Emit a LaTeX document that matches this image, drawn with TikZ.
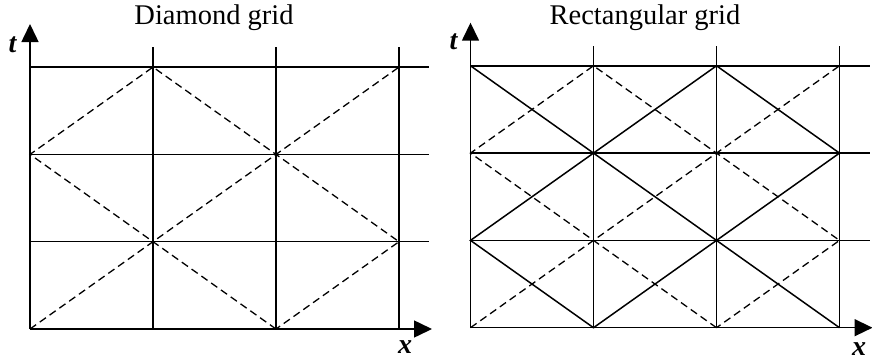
\documentclass[tikz,border=0pt]{standalone}
\usepackage{fontspec}
\setmainfont{Liberation Serif}
\usetikzlibrary{arrows.meta}

\begin{document}
\begin{tikzpicture}[
        x=1pt, y=1pt,
        gridline/.style={line width=1.5pt},
        dashline/.style={line width=1.3pt, dash pattern=on 7.5pt off 4.5pt},
        axis/.style={line width=1.5pt, -{Triangle[length=18pt,width=17pt]}},
        axislabel/.style={inner sep=0pt, font=\fontsize{28}{28}\selectfont\bfseries\itshape},
        title/.style={inner sep=0pt, anchor=base, font=\fontsize{28.5}{30}\selectfont}
    ]
        \useasboundingbox (0,0) rectangle (872,360);

        % grid points: L = diamond grid, R = rectangular grid
        \foreach \i in {0,...,3}
            \foreach \j in {0,...,3} {
                \coordinate (L\i\j) at (30+\i*123, 31+\j*87.3);
                \coordinate (R\i\j) at (470.5+\i*123, 32.3+\j*87.3);
            }
        \foreach \p in {L,R} {
            \coordinate (\p-xtip) at ([xshift=402pt]\p00);
            \coordinate (\p-ttip) at ([yshift=305pt]\p00);
            \foreach \k in {1,2,3} {
                \coordinate (\p-top\k) at ([yshift=20pt]\p\k3);
                \coordinate (\p-end\k) at ([xshift=30pt]\p3\k);
            }
        }

        \foreach \p in {L,R} {
            \foreach \k in {1,2,3} {
                \draw[gridline] (\p\k0) -- (\p-top\k);
                \draw[gridline] (\p0\k) -- (\p-end\k);
            }
            \draw[axis] (\p00) -- (\p-xtip);
            \draw[axis] (\p00) -- (\p-ttip);
            \draw[dashline] (\p00) -- (\p33);
            \draw[dashline] (\p20) -- (\p02) -- (\p13) -- (\p31) -- cycle;
        }
        \draw[gridline] (R03) -- (R30);
        \draw[gridline] (R10) -- (R01) -- (R23) -- (R32) -- cycle;

        \node[axislabel] (L-t) at (12.5,315) {t};
        \node[axislabel] (L-x) at (405,13) {x};
        \node[axislabel] (R-t) at (453.5,318.5) {t};
        \node[axislabel] (R-x) at (859,11) {x};
        \node[title] (L-title) at (214,336) {Diamond grid};
        \node[title] (R-title) at (645,336) {Rectangular grid};
    \end{tikzpicture}
\end{document}
